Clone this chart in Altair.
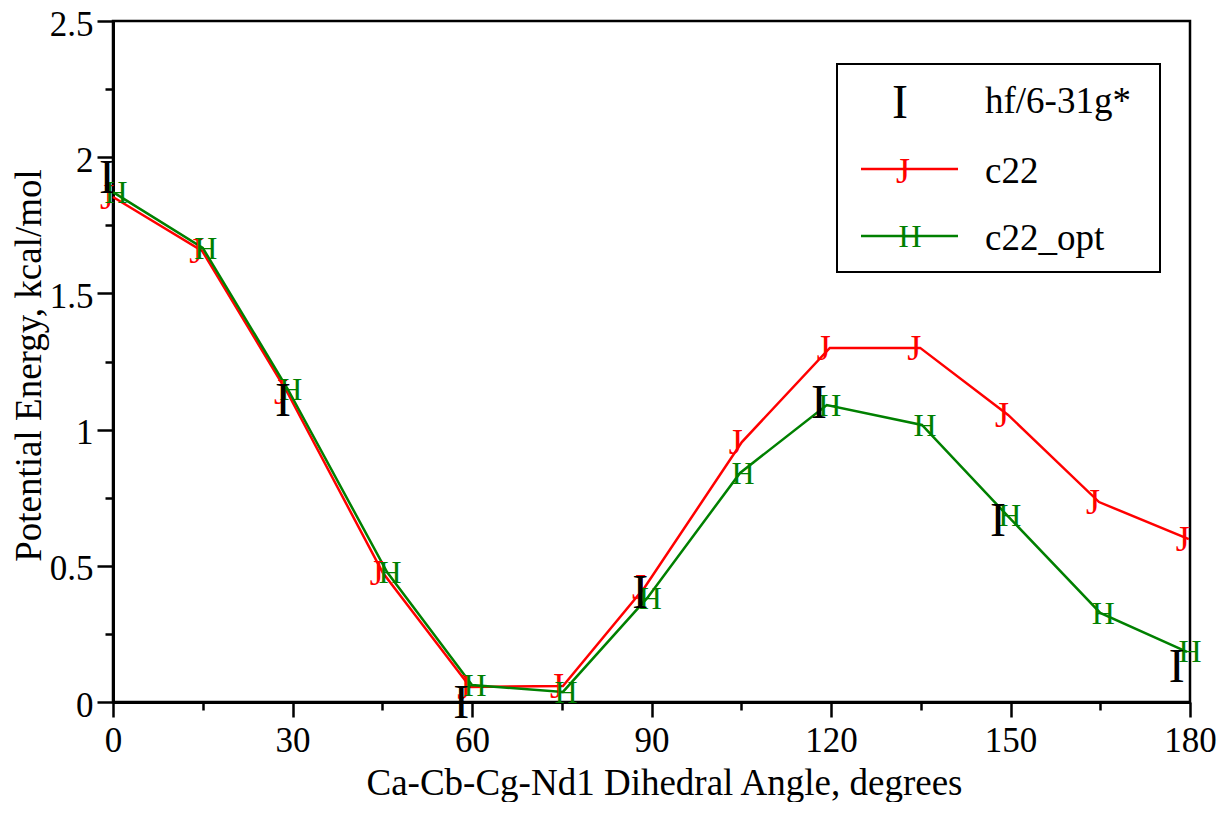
import altair as alt
import pandas as pd

FONT = "Liberation Serif"

# ---- data ----
angle_c22 = [0, 14.9, 29.1, 45.1, 59.7, 75.2, 88.9, 105.1, 119.8, 134.9, 149.6, 164.8, 179.8]
energy_c22 = [1.854, 1.656, 1.138, 0.474, 0.055, 0.059, 0.422, 0.954, 1.300, 1.300, 1.054, 0.734, 0.598]

angle_opt = [0, 15.0, 29.2, 45.8, 60.0, 75.2, 89.3, 104.8, 119.3, 135.2, 149.4, 165.0, 179.5]
energy_opt = [1.872, 1.667, 1.149, 0.477, 0.062, 0.037, 0.382, 0.841, 1.090, 1.017, 0.686, 0.327, 0.184]

angle_hf = [-1.0, 28.4, 58.2, 88.1, 118.0, 147.9, 177.8]
energy_hf = [1.927, 1.109, 0.0, 0.404, 1.101, 0.668, 0.132]

series_names = ["hf/6-31g*", "c22", "c22_opt"]
series_colors = ["#000000", "#ff0000", "#008000"]
series_glyphs = ["I", "J", "H"]

x_ticks = list(range(0, 181, 15))
y_ticks = [i * 0.25 for i in range(11)]

# ---- tables ----
df_c22 = pd.DataFrame({"angle": angle_c22, "energy": energy_c22, "series": "c22"})
df_opt = pd.DataFrame({"angle": angle_opt, "energy": energy_opt, "series": "c22_opt"})
df_hf = pd.DataFrame({"angle": angle_hf, "energy": energy_hf, "series": "hf/6-31g*"})
df_lines = pd.concat([df_c22, df_opt], ignore_index=True)

x_scale = alt.Scale(domain=[0, 180], nice=False, zero=False)
y_scale = alt.Scale(domain=[0, 2.5], nice=False, zero=False)
color_scale = alt.Scale(domain=series_names, range=series_colors)

x_axis = alt.Axis(
    values=x_ticks,
    labelExpr="datum.value % 30 === 0 ? datum.label : ''",
    tickSize={"condition": {"test": "datum.value % 30 === 0", "value": 15}, "value": 8},
    labelFlush=False,
    labelOverlap=False,
    grid=False,
    labelPadding=6,
    title="Ca-Cb-Cg-Nd1 Dihedral Angle, degrees",
    titleX=551,
    titleY=92,
    titleBaseline="alphabetic",
    titleAlign="center",
)
y_axis = alt.Axis(
    values=y_ticks,
    labelExpr="datum.value % 0.5 === 0 ? format(datum.value, '~g') : ''",
    tickSize={"condition": {"test": "datum.value % 0.5 === 0", "value": 16}, "value": 8},
    labelFlush=False,
    labelOverlap=False,
    labelOffset=3,
    grid=False,
    labelPadding=4,
    title="Potential Energy, kcal/mol",
    titleX=-73,
    titleY=344,
    titleBaseline="alphabetic",
    titleAlign="center",
)

X = alt.X("angle:Q", scale=x_scale, axis=x_axis)
Y = alt.Y("energy:Q", scale=y_scale, axis=y_axis)

lines = alt.Chart(df_lines).mark_line(strokeWidth=2.5, clip=False).encode(
    x=X, y=Y,
    color=alt.Color("series:N", scale=color_scale, legend=None),
    detail="series:N",
)

glyph_c22 = alt.Chart(df_c22).mark_text(
    text="J", font=FONT, fontSize=36, color="#ff0000", baseline="alphabetic", dy=12, dx=-6
).encode(x="angle:Q", y="energy:Q")

glyph_opt = alt.Chart(df_opt).mark_text(
    text="H", font=FONT, fontSize=32, color="#008000", baseline="alphabetic", dy=10.6, dx=3
).encode(x="angle:Q", y="energy:Q")

glyph_hf = alt.Chart(df_hf).mark_text(
    text="I", font=FONT, fontSize=48, color="#000000", baseline="alphabetic", dy=16
).encode(x="angle:Q", y="energy:Q")

# ---- legend (drawn in the top-right box) ----
one = pd.DataFrame({"k": [0]})
legend_box = alt.Chart(one).mark_rect(fill="white", stroke="black", strokeWidth=2).encode(
    x=alt.value(724), x2=alt.value(1047), y=alt.value(43), y2=alt.value(251)
)
leg_rows_y = [81, 148, 215]
leg_label_y = [92, 162, 229]
legend_parts = [legend_box]
for i, (name, col, gl) in enumerate(zip(series_names, series_colors, series_glyphs)):
    if i > 0:
        legend_parts.append(
            alt.Chart(one).mark_rule(color=col, strokeWidth=2.5).encode(
                x=alt.value(748), x2=alt.value(845), y=alt.value(leg_rows_y[i])
            )
        )
    size = {"I": 48, "J": 36, "H": 32}[gl]
    dy = {"I": 16, "J": 14, "H": 10.6}[gl]
    gx = {"I": 787, "J": 790, "H": 797}[gl]
    legend_parts.append(
        alt.Chart(one).mark_text(
            text=gl, font=FONT, fontSize=size, color=col, baseline="alphabetic", dy=dy
        ).encode(x=alt.value(gx), y=alt.value(leg_rows_y[i]))
    )
    legend_parts.append(
        alt.Chart(one).mark_text(
            text=name, font=FONT, fontSize=37, color="black", baseline="alphabetic", align="left"
        ).encode(x=alt.value(872), y=alt.value(leg_label_y[i]))
    )

chart = alt.layer(lines, glyph_c22, glyph_opt, glyph_hf, *legend_parts).properties(
    width=1077,
    height=681,
    padding={"left": 105, "top": 13, "right": 27, "bottom": 100},
    autosize=alt.AutoSizeParams(type="none"),
    background="white",
).configure_view(
    stroke="black", strokeWidth=2.5
).configure_axis(
    labelFont=FONT, labelFontSize=35, labelColor="black",
    titleFont=FONT, titleFontSize=37, titleColor="black", titleFontWeight="normal",
    domainColor="black", domainWidth=3, tickColor="black", tickWidth=2.5,
)

chart.save("out.html", embed_options={"renderer": "svg", "actions": False})
